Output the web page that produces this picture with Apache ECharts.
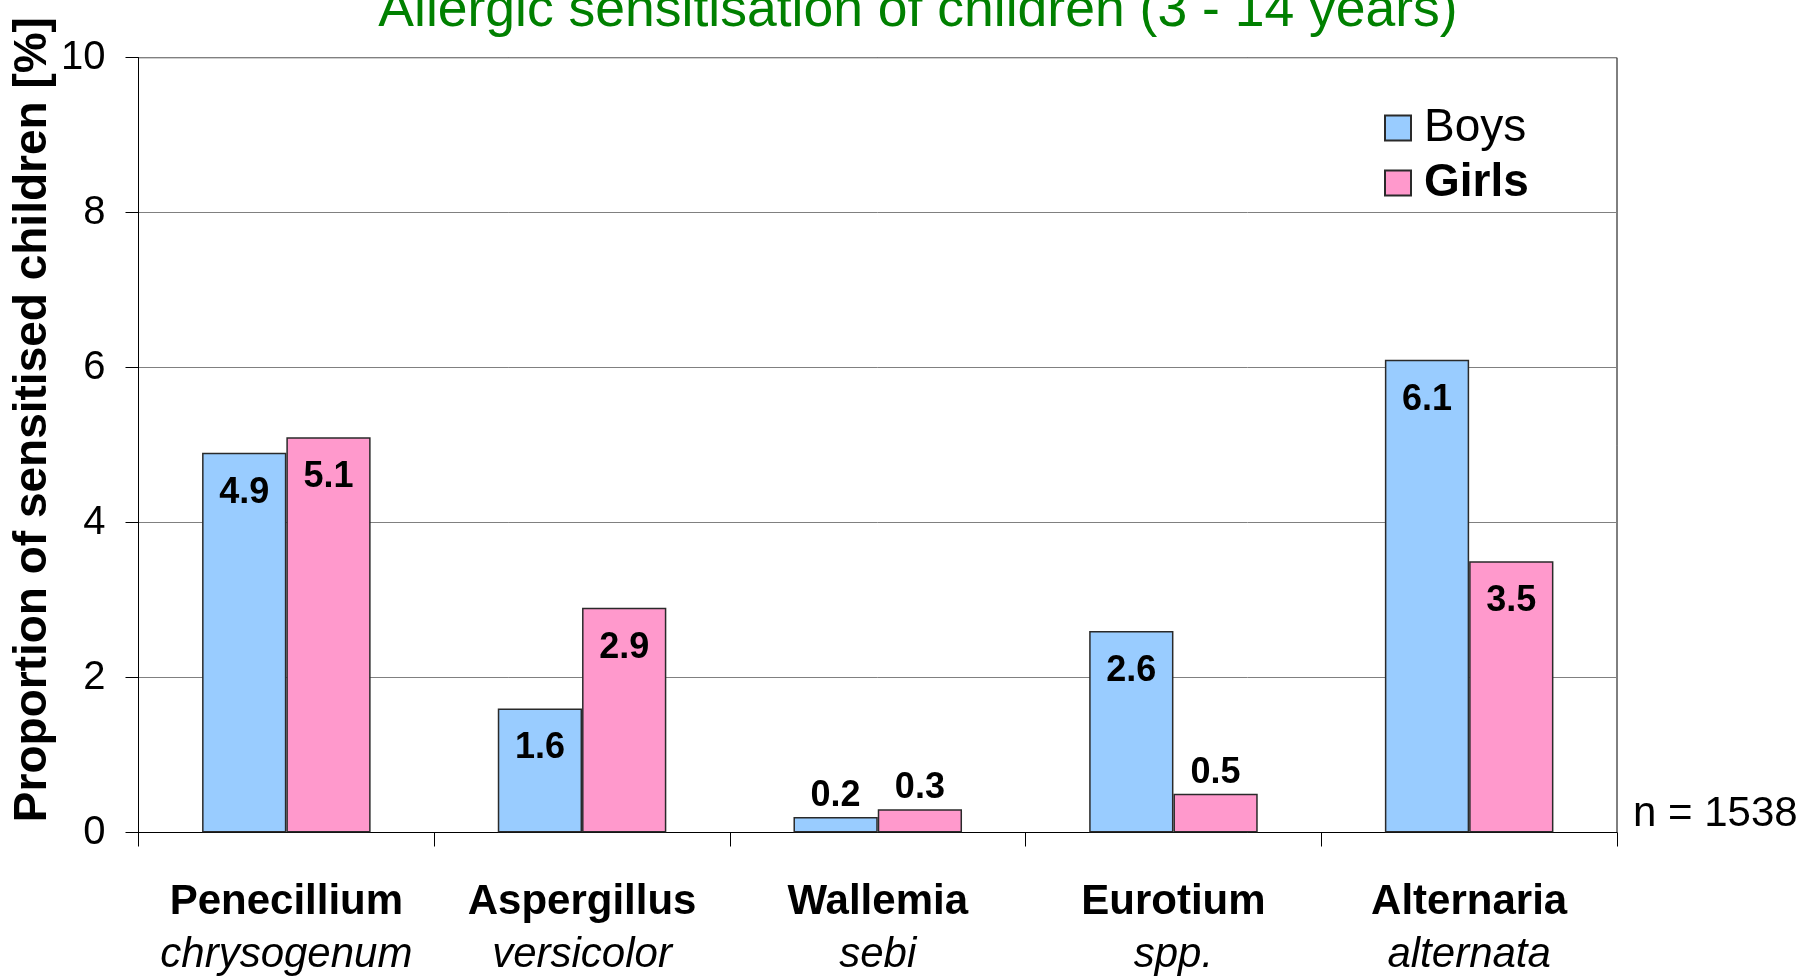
<!DOCTYPE html>
<html>
<head>
<meta charset="utf-8">
<script src="https://cdn.jsdelivr.net/npm/echarts@6/dist/echarts.min.js"></script>
<style>html,body{margin:0;padding:0;background:#fff}#c{width:1810px;height:976px}</style>
</head>
<body>
<div id="c"></div>
<script>
const genus = ['Penecillium', 'Aspergillus', 'Wallemia', 'Eurotium', 'Alternaria'];
const species = ['chrysogenum', 'versicolor', 'sebi', 'spp.', 'alternata'];
const boys = [4.9, 1.6, 0.2, 2.6, 6.1];
const girls = [5.1, 2.9, 0.3, 0.5, 3.5];
const yTicks = [0, 2, 4, 6, 8, 10];
const titleText = 'Allergic sensitisation of children (3 - 14 years)';
const yName = 'Proportion of sensitised children [%]';
const nText = 'n = 1538';

const FONT = '"Liberation Sans", Arial, Helvetica, sans-serif';
const categories = genus.map((g, i) => g + '\n' + species[i]);

function items(vals) {
  return vals.map(v => {
    const small = v < 1;
    return {
      value: v,
      label: small
        ? { position: 'top', distance: 3 }
        : { position: 'insideTop', distance: 22 }
    };
  });
}

const chart = echarts.init(document.getElementById('c'), null, { renderer: 'canvas' });
chart.setOption({
  backgroundColor: '#ffffff',
  animation: false,
  textStyle: { fontFamily: FONT },
  title: {
    text: titleText,
    left: 913,
    textAlign: 'center',
    top: -21,
    textStyle: { color: '#008000', fontSize: 53.5, fontWeight: 'normal', fontFamily: FONT }
  },
  legend: {
    orient: 'vertical',
    left: 1379,
    top: 100,
    itemWidth: 26,
    itemHeight: 25,
    itemGap: 9,
    icon: 'rect',
    textStyle: { fontSize: 46, color: '#000', fontFamily: FONT, padding: [0, 0, 0, 8] },
    data: [
      { name: 'Boys', textStyle: { fontWeight: 'normal' } },
      { name: 'Girls', textStyle: { fontWeight: 'bold' } }
    ]
  },
  grid: {
    left: 138.5, right: 193, top: 57.7, bottom: 143,
    show: true, borderColor: '#000', borderWidth: 1
  },
  xAxis: {
    type: 'category',
    data: categories,
    axisLine: { lineStyle: { color: '#000', width: 1 } },
    axisTick: { show: true, length: 14, lineStyle: { color: '#000' } },
    axisLabel: {
      margin: 43,
      interval: 0,
      formatter: (v) => {
        const p = v.split('\n');
        return '{g|' + p[0] + '}\n{s|' + p[1] + '}';
      },
      rich: {
        g: { fontSize: 42, fontWeight: 'bold', color: '#000', fontFamily: FONT, lineHeight: 53 },
        s: { fontSize: 42, fontStyle: 'italic', color: '#000', fontFamily: FONT, lineHeight: 53 }
      }
    }
  },
  yAxis: {
    type: 'value',
    min: 0, max: 10, interval: 2,
    axisLine: { show: true, lineStyle: { color: '#000', width: 1 } },
    axisTick: { show: true, inside: false, length: 13, lineStyle: { color: '#000' } },
    axisLabel: {
      margin: 33,
      fontSize: 40, color: '#000', fontFamily: FONT,
      formatter: (v) => yTicks.includes(v) ? String(v) : ''
    },
    splitLine: { show: true, lineStyle: { color: '#808080', width: 1 } }
  },
  series: [
    {
      name: 'Boys', type: 'bar', data: items(boys),
      barGap: '0%', barCategoryGap: '43%',
      itemStyle: { color: '#99ccff', borderColor: '#2a2a2a', borderWidth: 1.5 },
      label: { show: true, fontSize: 36, fontWeight: 'bold', color: '#000', fontFamily: FONT,
        formatter: (p) => p.value.toFixed(1) }
    },
    {
      name: 'Girls', type: 'bar', data: items(girls),
      barGap: '0%', barCategoryGap: '43%',
      itemStyle: { color: '#ff99cc', borderColor: '#2a2a2a', borderWidth: 1.5 },
      label: { show: true, fontSize: 36, fontWeight: 'bold', color: '#000', fontFamily: FONT,
        formatter: (p) => p.value.toFixed(1) }
    }
  ],
  graphic: [
    {
      type: 'text', x: 33, y: 419.6, rotation: Math.PI / 2,
      style: { text: yName, font: 'bold 46px ' + FONT, fill: '#000', align: 'center', verticalAlign: 'middle' }
    },
    {
      type: 'text', x: 1633, y: 814,
      style: { text: nText, font: '42px ' + FONT, fill: '#000', align: 'left', verticalAlign: 'middle' }
    }
  ]
});
</script>
</body>
</html>
